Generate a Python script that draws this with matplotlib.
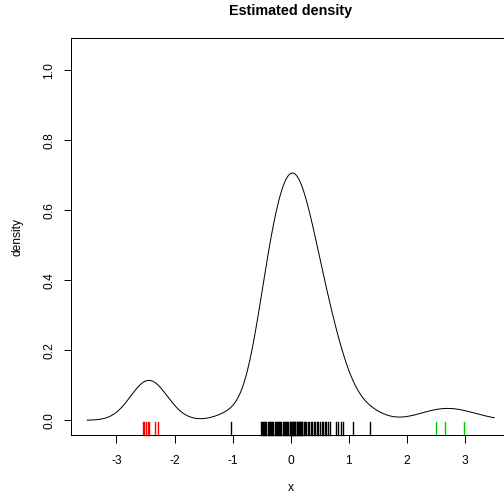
import numpy as np
import matplotlib
matplotlib.use("Agg")
import matplotlib.pyplot as plt

# rug data, one list per group
red_pts = [-2.55, -2.52, -2.49, -2.46, -2.43, -2.33, -2.28]
black_pts = [-1.02,
             -0.52, -0.50, -0.48, -0.46, -0.44, -0.42, -0.40, -0.38, -0.36,
             -0.34, -0.32, -0.30, -0.28, -0.26, -0.24, -0.22, -0.20, -0.18,
             -0.16, -0.14, -0.12, -0.10, -0.08, -0.06, -0.04, -0.02, -0.01,
             0.00, 0.02, 0.03, 0.04, 0.06, 0.07, 0.08, 0.10, 0.11, 0.12,
             0.14, 0.15, 0.16, 0.18, 0.19, 0.20,
             0.23, 0.25, 0.27, 0.30, 0.32, 0.35, 0.37, 0.40, 0.42, 0.45,
             0.47, 0.50, 0.53, 0.55, 0.58, 0.61, 0.64, 0.67,
             0.77, 0.81, 0.86, 0.89, 1.07, 1.37]
green_pts = [2.50, 2.65, 2.98]

groups = [red_pts, black_pts, green_pts]
group_bw = [0.30, 0.26, 0.40]
group_colors = ["#FF0000", "#000000", "#00CD00"]

x_ticks = [-3, -2, -1, 0, 1, 2, 3]
y_ticks = [0.0, 0.2, 0.4, 0.6, 0.8, 1.0]

plt.rcParams['font.family'] = ['Liberation Sans', 'DejaVu Sans']
plt.rcParams['axes.unicode_minus'] = False

# density: sum of gaussian kernels, each group with its own bandwidth
x_grid = np.linspace(-3.5, 3.5, 512)
n_total = sum(len(g) for g in groups)
dens = np.zeros_like(x_grid)
for pts, bw in zip(groups, group_bw):
    z = (x_grid[:, None] - np.asarray(pts)[None, :]) / bw
    dens += np.exp(-0.5 * z ** 2).sum(axis=1) / (n_total * bw * np.sqrt(2 * np.pi))

W, H = 504, 502
fig = plt.figure(figsize=(W / 72, H / 72), dpi=72)
ax = fig.add_axes([71 / W, 1 - 435 / H, (510.6 - 71) / W, (435 - 38) / H])

ax.plot(x_grid, dens, color="black", lw=1.0)

# rug at the bottom
for pts, col in zip(groups, group_colors):
    for p in pts:
        ax.plot([p, p], [0, 0.032], color=col, lw=1.4,
                transform=ax.get_xaxis_transform(), clip_on=False)

ax.set_xlim(-3.78, 3.78)
ax.set_ylim(-0.042, 1.092)
ax.set_xticks(x_ticks)
ax.set_xticklabels([str(t) for t in x_ticks])
ax.set_yticks(y_ticks)
ax.set_yticklabels([f"{t:.1f}" for t in y_ticks], rotation=90, va="center")
ax.tick_params(direction="out", length=7.5, width=1, labelsize=12, colors="black")
ax.tick_params(axis="x", pad=13)
ax.tick_params(axis="y", pad=8)
for s in ax.spines.values():
    s.set_linewidth(1)
    s.set_color("black")

fig.text(290.8 / W, 1 - 10.5 / H, "Estimated density", ha="center", va="center",
         fontsize=14.4, fontweight="bold")
fig.text(290.8 / W, 1 - 488 / H, "x", ha="center", va="center", fontsize=12)
fig.text(18 / W, 1 - 236.5 / H, "density", ha="center", va="center",
         fontsize=12, rotation=90)

fig.savefig("out.png", dpi=72)
